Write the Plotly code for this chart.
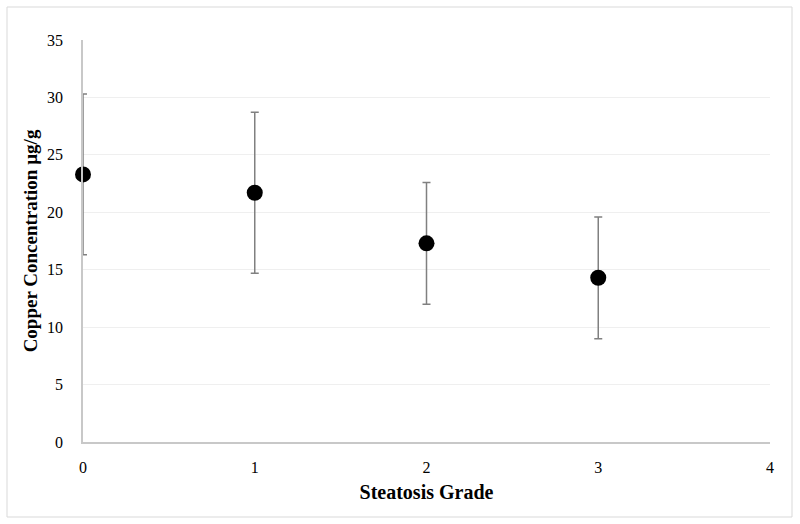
import plotly.graph_objects as go

grades = [0, 1, 2, 3]
copper_mean = [23.3, 21.7, 17.3, 14.3]
copper_err = [7.0, 7.0, 5.3, 5.3]
x_ticks = [0, 1, 2, 3, 4]
y_ticks = [0, 5, 10, 15, 20, 25, 30, 35]

FONT = "Liberation Serif, Times New Roman, serif"

fig = go.Figure()
fig.add_trace(go.Scatter(
    x=grades, y=copper_mean, mode="markers",
    marker=dict(color="black", size=16),
    error_y=dict(type="data", array=copper_err, visible=True,
                 color="#808080", thickness=1.5, width=4),
    cliponaxis=False, showlegend=False,
))

L, R, T, B = 83, 30, 40, 82
W, H = 800, 524
pw, ph = W - L - R, H - T - B

fig.update_layout(
    width=W, height=H,
    margin=dict(l=L, r=R, t=T, b=B),
    paper_bgcolor="white", plot_bgcolor="white",
    font=dict(family=FONT, size=16, color="black"),
    xaxis=dict(range=[0, 4], tickvals=x_ticks, showgrid=False, zeroline=False,
               showline=True, linecolor="#c8c8c8", linewidth=1.5, ticks="",
               ticklabelstandoff=10,
               title=dict(text="<b>Steatosis Grade</b>", font=dict(size=20), standoff=10)),
    yaxis=dict(range=[0, 35], tickvals=y_ticks, showgrid=True, gridcolor="#efefef",
               zeroline=False, showline=True, linecolor="#c8c8c8", linewidth=1.5,
               ticks="", ticklabelstandoff=15,
               title=dict(text="<b>Copper Concentration µg/g</b>", font=dict(size=19), standoff=4)),
    shapes=[dict(type="rect", xref="paper", yref="paper",
                 x0=(7 - L) / pw, x1=(792 - L) / pw,
                 y0=(H - B - 517) / ph, y1=(H - B - 7) / ph,
                 line=dict(color="#d9d9d9", width=1), layer="below")],
)

fig.write_html("out.html", config={"displayModeBar": False},
               post_script="document.body.style.margin='0';document.body.style.overflow='hidden';")
